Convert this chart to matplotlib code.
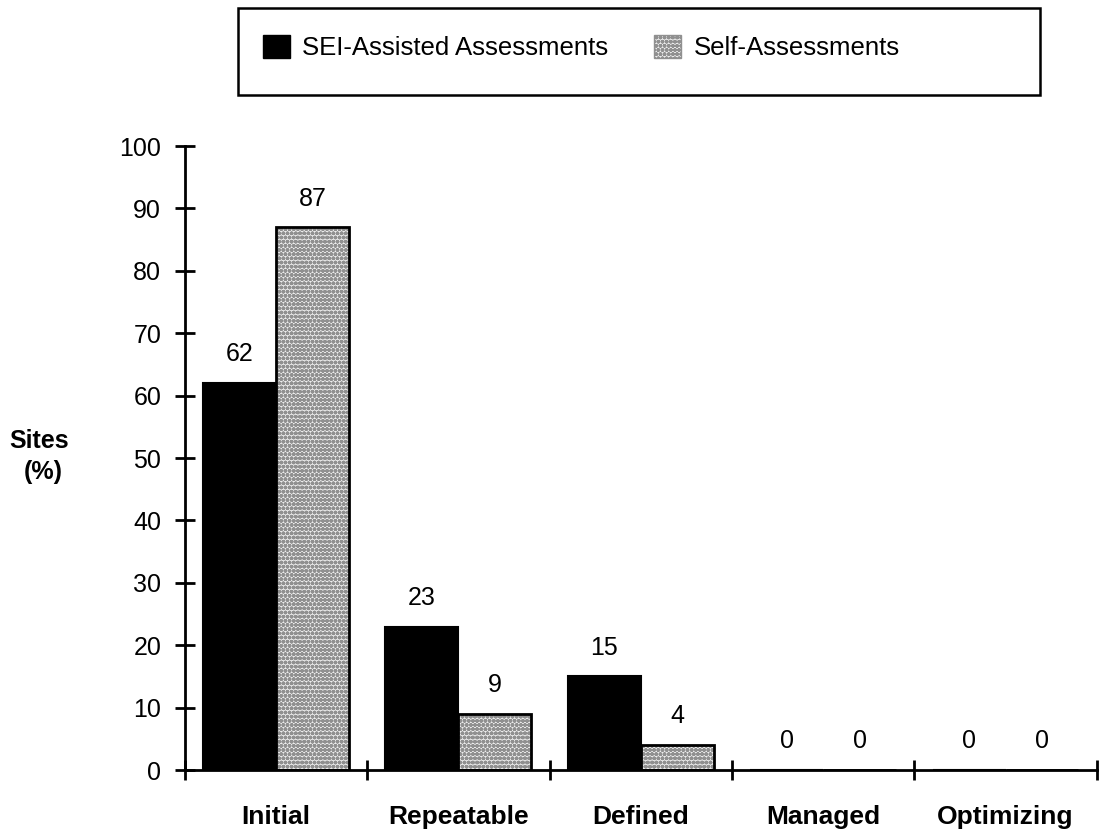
import numpy as np
import matplotlib
matplotlib.use('Agg')
import matplotlib.pyplot as plt
from matplotlib.patches import Patch, Rectangle

# data
levels = ['Initial', 'Repeatable', 'Defined', 'Managed', 'Optimizing']
sei_assisted = [62, 23, 15, 0, 0]
self_assessed = [87, 9, 4, 0, 0]
series_names = ['SEI-Assisted Assessments', 'Self-Assessments']

plt.rcParams['font.family'] = ['Liberation Sans', 'DejaVu Sans']
plt.rcParams['hatch.linewidth'] = 1.4

fig = plt.figure(figsize=(11, 8.33), dpi=100)
ax = fig.add_axes([0.168, 0.0756, 0.829, 0.749])

x = np.arange(len(levels))
w = 0.4
stip_face = '#ececec'
stip_dots = '#909090'

# SEI-assisted: solid black
ax.bar(x - w / 2, sei_assisted, w, color='black', edgecolor='black', linewidth=1.5)
# self-assessment: stippled grey, drawn twice so the hatch stays grey and the frame black
ax.bar(x + w / 2, self_assessed, w, color=stip_face, edgecolor=stip_dots,
       hatch='oooo', linewidth=0)
ax.bar(x + w / 2, self_assessed, w, fill=False, edgecolor='black', linewidth=2)

for xi, v in zip(x, sei_assisted):
    ax.text(xi - w / 2, v + 4.6, str(v), ha='center', va='center', fontsize=18)
for xi, v in zip(x, self_assessed):
    ax.text(xi + w / 2, v + 4.6, str(v), ha='center', va='center', fontsize=18)

ax.set_xlim(-0.5, len(levels) - 0.5)
ax.set_ylim(0, 100)
for s in ['top', 'right']:
    ax.spines[s].set_visible(False)
for s in ['left', 'bottom']:
    ax.spines[s].set_linewidth(2)

ax.set_yticks(np.arange(0, 101, 10))
ax.tick_params(axis='y', direction='inout', length=14, width=2, labelsize=18, pad=10)

ax.set_xticks(np.arange(-0.5, len(levels), 1.0))
ax.set_xticklabels([])
ax.tick_params(axis='x', which='major', direction='inout', length=14, width=2)
ax.set_xticks(x, minor=True)
ax.set_xticklabels(levels, minor=True, fontsize=19, fontweight='bold')
ax.tick_params(axis='x', which='minor', length=0, pad=25)

fig.text(0.036, 0.47, 'Sites', fontsize=18, fontweight='bold', ha='center', va='center')
fig.text(0.039, 0.433, '(%)', fontsize=18, fontweight='bold', ha='center', va='center')

# legend box (wider than its content, as in the original)
fig.patches.append(Rectangle((0.2164, 0.886), 0.729, 0.104, transform=fig.transFigure,
                             fill=False, edgecolor='black', linewidth=1.8))
handles = [Patch(facecolor='black', edgecolor='black'),
           Patch(facecolor=stip_face, edgecolor=stip_dots, hatch='oooo')]
fig.legend(handles, series_names, loc='center left', bbox_to_anchor=(0.239, 0.943),
           ncol=2, fontsize=18.5, frameon=False,
           handlelength=1.05, handleheight=1.05, columnspacing=1.8, handletextpad=0.47,
           borderpad=0, borderaxespad=0)

fig.savefig('out.png', dpi=100)
